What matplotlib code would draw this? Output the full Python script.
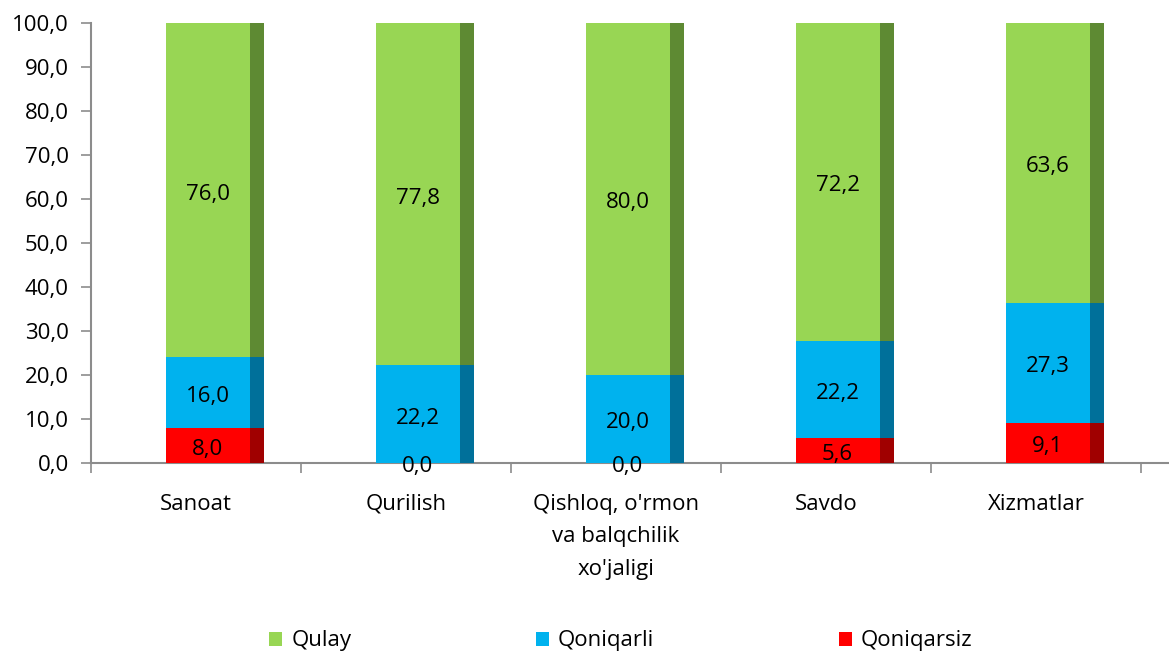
import numpy as np
import matplotlib.pyplot as plt
from matplotlib.patches import Patch

plt.rcParams['font.family'] = ['Open Sans', 'DejaVu Sans']

categories = ["Sanoat", "Qurilish", "Qishloq, o'rmon\nva balqchilik\nxo'jaligi", "Savdo", "Xizmatlar"]
qulay = [76.0, 77.8, 80.0, 72.2, 63.6]
qoniqarli = [16.0, 22.2, 20.0, 22.2, 27.3]
qoniqarsiz = [8.0, 0.0, 0.0, 5.6, 9.1]

series_names = ["Qulay", "Qoniqarli", "Qoniqarsiz"]
front_colors = ["#98D654", "#00B2EE", "#FF0000"]
side_colors = ["#5E8A33", "#00709A", "#A00000"]

FRONT_W = 0.40
SIDE_W = 0.068
SHIFT = 0.055


def fmt(v):
    return f"{v:.1f}".replace(".", ",")


fig = plt.figure(figsize=(11.69, 6.56), dpi=100)
ax = fig.add_axes([0.0778, 0.2942, 0.9222, 0.6708])

x = np.arange(len(categories))
xc = x + SHIFT
bottom = np.zeros(len(categories))
# stack from the bottom: red, blue, green
for vals, fc, sc in [(qoniqarsiz, front_colors[2], side_colors[2]),
                     (qoniqarli, front_colors[1], side_colors[1]),
                     (qulay, front_colors[0], side_colors[0])]:
    vals = np.array(vals)
    ax.bar(xc, vals, FRONT_W, bottom=bottom, color=fc, linewidth=0, zorder=3)
    ax.bar(xc + FRONT_W / 2 + SIDE_W / 2, vals, SIDE_W, bottom=bottom,
           color=sc, linewidth=0, zorder=3)
    for xi, b, v in zip(xc, bottom, vals):
        ax.text(xi, b + v / 2 - 0.9, fmt(v), ha='center', va='center',
                fontsize=16, color='black', zorder=4)
    bottom = bottom + vals

ax.set_ylim(0, 100)
ax.set_xlim(-0.5, 4.633)
ax.set_yticks(np.arange(0, 101, 10))
ax.set_yticklabels([fmt(v) for v in np.arange(0, 101, 10)])
ax.set_xticks(x)
ax.set_xticklabels(categories, linespacing=1.72)
ax.set_xticks(np.arange(-0.5, 5, 1), minor=True)

ax.tick_params(axis='y', length=7, width=1.2, color='#8C8C8C', labelsize=16, pad=9)
ax.tick_params(axis='x', which='major', length=0, labelsize=16, pad=22)
ax.tick_params(axis='x', which='minor', length=7, width=1.2, color='#8C8C8C')

for s in ['top', 'right']:
    ax.spines[s].set_visible(False)
for s in ['left', 'bottom']:
    ax.spines[s].set_color('#8C8C8C')
    ax.spines[s].set_linewidth(1.5)

handles = [Patch(facecolor=c, edgecolor='none') for c in front_colors]
fig.legend(handles, series_names, loc='center', bbox_to_anchor=(0.531, 0.023),
           ncol=3, frameon=False, fontsize=16, handlelength=0.6, handleheight=0.6,
           handletextpad=0.4, columnspacing=8.3)

fig.savefig('out.png', dpi=100)
